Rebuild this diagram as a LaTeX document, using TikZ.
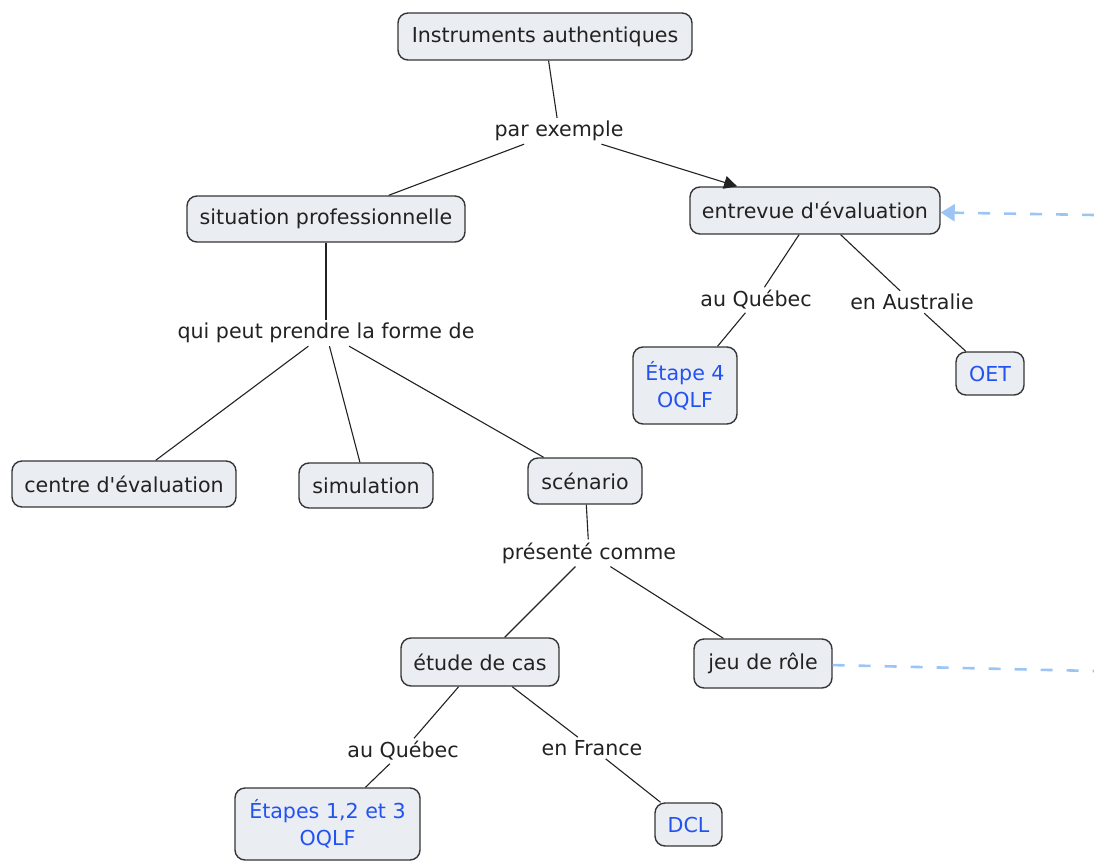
\documentclass[tikz,border=0pt]{standalone}
\usepackage{fontspec}
\setmainfont{DejaVu Sans}
\usetikzlibrary{arrows.meta}
\definecolor{conceptfill}{HTML}{EAEDF2}
\definecolor{conceptedge}{HTML}{363636}
\definecolor{ink}{HTML}{222222}
\definecolor{linkblue}{HTML}{2352F2}
\definecolor{dashblue}{HTML}{9CC4F5}
\newcommand{\apos}{\textquotesingle}
\tikzset{
  concept/.style={draw=conceptedge, fill=conceptfill, line width=1.4pt,
    rounded corners=10pt, inner sep=0pt, align=center, text=ink,
    font=\fontsize{20.6}{27}\selectfont},
  resource/.style={concept, text=linkblue},
  phrase/.style={inner sep=3pt, text=ink, font=\fontsize{20.6}{27}\selectfont},
  link/.style={draw=ink, line width=1.1pt},
  crosslink/.style={draw=dashblue, line width=2.6pt, dash pattern=on 12pt off 14pt},
}
\begin{document}
\begin{tikzpicture}[x=1pt, y=-1pt]
\useasboundingbox (0,0) rectangle (1094,861);

% concepts
\node[concept, minimum width=294pt, minimum height=47pt] (inst)   at (545,36.5) {Instruments authentiques};
\node[concept, minimum width=278pt, minimum height=46pt] (situ)   at (326,219)  {situation professionnelle};
\node[concept, minimum width=250pt, minimum height=47pt] (entre)  at (815,210.5){entrevue d\apos évaluation};
\node[concept, minimum width=224pt, minimum height=46pt] (centre) at (124,484)  {centre d\apos évaluation};
\node[concept, minimum width=134pt, minimum height=45pt] (simu)   at (366,485.5){simulation};
\node[concept, minimum width=114pt, minimum height=46pt] (scen)   at (585,481)  {scénario};
\node[concept, minimum width=158pt, minimum height=48pt] (etude)  at (480,662)  {étude de cas};
\node[concept, minimum width=138pt, minimum height=49pt] (jeu)    at (763,663.5){jeu de rôle};

% resources
\node[resource, minimum width=104pt, minimum height=77pt] (etape4) at (685,385.5) {Étape 4\\OQLF};
\node[resource, minimum width=68pt,  minimum height=43pt] (oet)    at (990,373.5) {OET};
\node[resource, minimum width=185pt, minimum height=72pt] (etapes) at (327.5,824) {Étapes 1,2 et 3\\OQLF};
\node[resource, minimum width=67pt,  minimum height=43pt] (dcl)    at (688.5,824.5) {DCL};

% linking phrases
\node[phrase] (parex)  at (559,131) {par exemple};
\node[phrase] (forme)  at (326,333) {qui peut prendre la forme de};
\node[phrase] (quebA)  at (756,300) {au Québec};
\node[phrase] (austr)  at (912,302) {en Australie};
\node[phrase] (pres)   at (589,553) {présenté comme};
\node[phrase] (quebB)  at (403,751) {au Québec};
\node[phrase] (france) at (592,748) {en France};

% free ends of the cross-links
\coordinate (edgeA) at (1094,215);
\coordinate (edgeB) at (1094,671);

% propositions
\draw[link] (inst) -- (parex);
\draw[link] (parex) -- (situ);
\draw[link, -{Triangle[length=13pt, width=13pt]}] (parex) -- (entre);
\draw[link] (situ) -- (forme);
\draw[link] (forme) -- (centre);
\draw[link] (forme) -- (simu);
\draw[link] (forme) -- (scen);
\draw[link] (scen) -- (pres);
\draw[link] (pres) -- (etude);
\draw[link] (pres) -- (jeu);
\draw[link] (etude) -- (quebB);
\draw[link] (quebB) -- (etapes);
\draw[link] (etude) -- (france);
\draw[link] (france) -- (dcl);
\draw[link] (entre) -- (quebA);
\draw[link] (quebA) -- (etape4);
\draw[link] (entre) -- (austr);
\draw[link] (austr) -- (oet);

% cross-links
\draw[crosslink, -{Triangle[length=14pt, width=17pt]}] (edgeA) -- (entre);
\draw[crosslink] (jeu) -- (edgeB);
\end{tikzpicture}
\end{document}
